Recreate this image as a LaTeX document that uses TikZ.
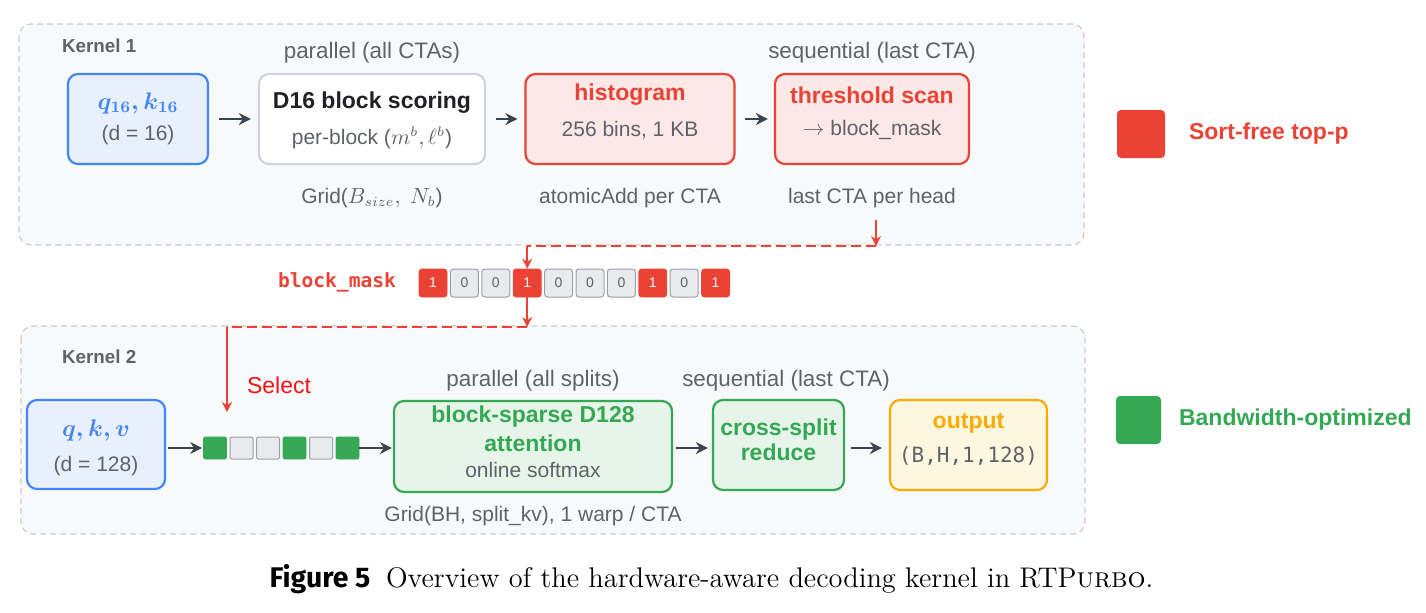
\documentclass[tikz,border=0pt]{standalone}
\usepackage{amsmath}
\usepackage{fontspec}
\usetikzlibrary{arrows.meta}
\newfontfamily\lsans{Liberation Sans}
\newfontfamily\dmono{DejaVu Sans Mono}
\newfontfamily\figfont{Fira Sans}

\definecolor{kfill}{HTML}{F8F9FB}
\definecolor{kgray}{HTML}{C8CCD2}
\definecolor{txtgray}{HTML}{5F6368}
\definecolor{arrdark}{HTML}{3C4350}
\definecolor{gblue}{HTML}{4285F4}
\definecolor{gbluefill}{HTML}{E8F0FE}
\definecolor{mred}{HTML}{EA4335}
\definecolor{mredfill}{HTML}{FCE8E6}
\definecolor{ggreen}{HTML}{34A853}
\definecolor{ggreenfill}{HTML}{E6F4EA}
\definecolor{gorange}{HTML}{F9AB00}
\definecolor{gorangefill}{HTML}{FEF7E0}
\definecolor{cellgray}{HTML}{E8EAED}
\definecolor{celledge}{HTML}{9AA0A6}
\definecolor{boxgray}{HTML}{D0D4D9}
\definecolor{selred}{HTML}{F01414}
\definecolor{inkblack}{HTML}{202124}

\tikzset{
  kernel/.style={draw=kgray, fill=kfill, rounded corners=6pt, line width=0.6pt, dash pattern=on 3pt off 2pt},
  klabel/.style={anchor=west, text=txtgray, font=\lsans\fontsize{9.4}{11}\selectfont\bfseries},
  stagebox/.style={rounded corners=5pt, line width=1.1pt, inner sep=0pt},
  title/.style={align=center, font=\lsans\fontsize{11.5}{14.5}\selectfont\bfseries},
  note/.style={text=txtgray, font=\lsans\fontsize{10.5}{12}\selectfont},
  head/.style={text=txtgray, font=\lsans\fontsize{11.2}{13}\selectfont},
  flow/.style={draw=arrdark, line width=1.1pt, -{Stealth[length=6pt,width=6pt]}},
  redflow/.style={draw=mred, line width=0.9pt, -{Stealth[length=5pt,width=5pt]}},
  reddash/.style={draw=mred, line width=0.9pt, dash pattern=on 5pt off 2.5pt},
  cell1/.style={fill=mred, draw=mred, rounded corners=1.5pt, minimum width=14pt, minimum height=14pt, inner sep=0pt, text=white, font=\lsans\fontsize{7}{8}\selectfont},
  cell0/.style={fill=cellgray, draw=celledge, line width=0.5pt, rounded corners=1.5pt, minimum width=14pt, minimum height=14pt, inner sep=0pt, text=txtgray, font=\lsans\fontsize{7}{8}\selectfont},
  blk1/.style={fill=ggreen, draw=ggreen, rounded corners=1pt, minimum width=11.5pt, minimum height=11pt, inner sep=0pt},
  blk0/.style={fill=cellgray, draw=celledge, line width=0.5pt, rounded corners=1pt, minimum width=11.5pt, minimum height=11pt, inner sep=0pt}
}

\begin{document}
\begin{tikzpicture}[x=0.5pt, y=-0.5pt]
\useasboundingbox (0,0) rectangle (1426,612);

% kernel frames
\draw[kernel] (19,24) rectangle (1084,245);
\draw[kernel] (21,326) rectangle (1085,534);
\node (k1lbl) [klabel] at (55,46) {Kernel 1};
\node (k2lbl) [klabel] at (55,357) {Kernel 2};

% kernel 1
\node (qk) [stagebox, draw=gblue, fill=gbluefill, minimum width=70pt, minimum height=45pt] at (138,119) {};
\node (qkT) [text=gblue] at (138,103) {\fontsize{12}{14}\selectfont$\boldsymbol{q_{16}, k_{16}}$};
\node (qkS) [note] at (138,135) {(d = 16)};

\node (score) [stagebox, draw=boxgray, fill=white, minimum width=113pt, minimum height=45pt] at (372,119) {};
\node (scoreT) [title, text=inkblack] at (372,103) {D16 block scoring};
\node (scoreS) [note] at (372,138) {per-block ($m^b, \ell^b$)};
\node (scoreH) [head] at (372,53) {parallel (all CTAs)};
\node (scoreG) [note] at (372,198) {Grid($B_{size},\ N_b$)};

\node (hist) [stagebox, draw=mred, fill=mredfill, minimum width=104.5pt, minimum height=45pt] at (630,119) {};
\node (histT) [title, text=mred] at (630,95) {histogram};
\node (histS) [note] at (630,130) {256 bins, 1 KB};
\node (histG) [note] at (630,198) {atomicAdd per CTA};

\node (thr) [stagebox, draw=mred, fill=mredfill, minimum width=97pt, minimum height=45pt] at (872,119) {};
\node (thrT) [title, text=mred] at (872,95) {threshold scan};
\node (thrS) [note] at (872,130) {$\rightarrow$ block\_mask};
\node (thrH) [head] at (872,53) {sequential (last CTA)};
\node (thrG) [note] at (872,198) {last CTA per head};

\draw[flow] ([xshift=5pt]qk.east) -- ([xshift=-3.5pt]score.west);
\draw[flow] ([xshift=5pt]score.east) -- ([xshift=-3.5pt]hist.west);
\draw[flow] ([xshift=4.5pt]hist.east) -- ([xshift=-3pt]thr.west);

% block mask
\node (masklbl) [text=mred, font=\dmono\fontsize{9.8}{11}\selectfont\bfseries] at (337,282) {block\_mask};
\foreach \v [count=\i] in {1,0,0,1,0,0,0,1,0,1}
  \node (m\i) [cell\v] at ({433+31.4*(\i-1)},283) {\v};

\coordinate (thrdrop) at (876,220);
\coordinate (thrturn) at (876,246);
\coordinate (maskturn) at (m4.north |- thrturn);
\draw[reddash] (thrturn) -- (maskturn);
\draw[redflow] (thrdrop) -- (thrturn);
\draw[redflow] (maskturn) -- (m4.north);

\coordinate (selturn) at (m4.south |- 0,327);
\coordinate (selcorner) at (227,327);
\coordinate (seltip) at (227,412);
\draw[reddash] (selturn) -- (selcorner);
\draw[redflow] (m4.south) -- (selturn);
\draw[redflow] (selcorner) -- (seltip);
\node (sel) [text=selred, font=\lsans\fontsize{11.5}{13}\selectfont] at (279,385) {Select};

% kernel 2
\node (qkv) [stagebox, draw=gblue, fill=gbluefill, minimum width=69pt, minimum height=44.5pt] at (96,444.5) {};
\node (qkvT) [text=gblue] at (96,430) {\fontsize{12}{14}\selectfont$\boldsymbol{q, k, v}$};
\node (qkvS) [note] at (96,466) {(d = 128)};

\foreach \v [count=\i] in {1,0,0,1,0,1}
  \node (g\i) [blk\v] at ({215+26.5*(\i-1)},448) {};

\node (attn) [stagebox, draw=ggreen, fill=ggreenfill, minimum width=139pt, minimum height=45.5pt] at (533,446.5) {};
\node (attnT) [title, text=ggreen] at (533,428.5) {block-sparse D128\\attention};
\node (attnS) [note] at (533,470) {online softmax};
\node (attnH) [head] at (533,381) {parallel (all splits)};
\node (attnG) [note] at (533,516) {Grid(BH, split\_kv), 1 warp / CTA};

\node (red) [stagebox, draw=ggreen, fill=ggreenfill, minimum width=65.5pt, minimum height=45pt] at (778.5,445) {};
\node (redT) [title, text=ggreen, font=\lsans\fontsize{11.5}{12.5}\selectfont\bfseries] at (778.5,440) {cross-split\\reduce};
\node (redH) [head] at (786,381) {sequential (last CTA)};

\node (out) [stagebox, draw=gorange, fill=gorangefill, minimum width=78.5pt, minimum height=45pt] at (968.5,445) {};
\node (outT) [title, text=gorange] at (968.5,423) {output};
\node (outS) [text=txtgray, font=\dmono\fontsize{10.5}{12}\selectfont] at (968.5,456) {(B,H,1,128)};

\draw[flow] ([xshift=1pt]qkv.east |- g1.west) -- ([xshift=-0.5pt]g1.west);
\draw[flow] (g6.east) -- ([xshift=-0.5pt]attn.west |- g6.east);
\draw[flow] ([xshift=1.5pt]attn.east |- g6.east) -- ([xshift=-2pt]red.west |- g6.east);
\draw[flow] ([xshift=3pt]red.east |- g6.east) -- ([xshift=-3.5pt]out.west |- g6.east);

% legend
\node (legred) [fill=mred, rounded corners=2pt, minimum width=24pt, minimum height=24pt, inner sep=0pt] at (1141,134) {};
\node (legredT) [anchor=west, text=mred, font=\lsans\fontsize{11.5}{13}\selectfont\bfseries] at (1182,134) {Sort-free top-p};
\node (leggrn) [fill=ggreen, rounded corners=2pt, minimum width=22.5pt, minimum height=24pt, inner sep=0pt] at (1138.5,420) {};
\node (leggrnT) [anchor=west, text=ggreen, font=\lsans\fontsize{11.5}{13}\selectfont\bfseries] at (1172,420) {Bandwidth-optimized};

% caption
\node (cap) [font=\fontsize{14.2}{17}\selectfont] at (711.5,579) {{\figfont\bfseries Figure 5}\hspace{0.55em}Overview of the hardware-aware decoding kernel in RTP\textsc{urbo}.};
\end{tikzpicture}
\end{document}
